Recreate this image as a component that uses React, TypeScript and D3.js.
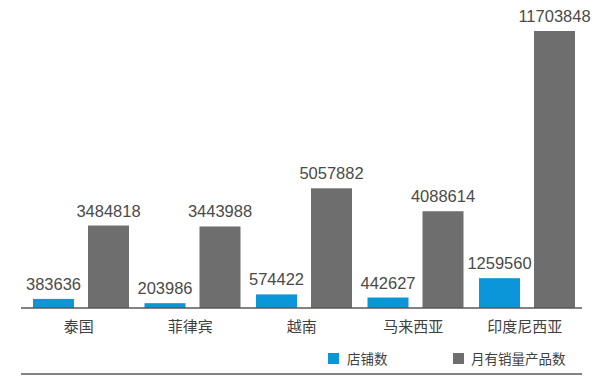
import React from "react";
import * as d3 from "d3";

const categories = ["泰国", "菲律宾", "越南", "马来西亚", "印度尼西亚"];
const shops = [383636, 203986, 574422, 442627, 1259560];
const products = [3484818, 3443988, 5057882, 4088614, 11703848];
const seriesNames = ["店铺数", "月有销量产品数"];
const colors = ["#0a96d9", "#6f6e6f"];

const W = 600, H = 379;
const left = 21, right = 582, baseY = 308;

export default function App() {
  const x = d3.scaleBand<string>().domain(categories).range([left, left + 111.5 * 5]).paddingInner(0).paddingOuter(0);
  const y = d3.scaleLinear().domain([0, 12000000]).range([baseY, 24]);
  const bw = 41;
  const gap = 14;
  const font = "'Liberation Sans', Arial, sans-serif";
  const cjk = "'Noto Sans CJK SC', sans-serif";
  return (
    <svg width={W} height={H} style={{ position: "absolute", left: 0, top: 0, background: "#fff" }}>
      {categories.map((c, i) => {
        const bx = (x(c) as number) + 12;
        const gx = bx + bw + gap;
        return (
          <g key={c}>
            <rect x={bx} y={y(shops[i])} width={bw} height={baseY - y(shops[i])} fill={colors[0]} />
            <rect x={gx} y={y(products[i])} width={bw} height={baseY - y(products[i])} fill={colors[1]} />
            <text x={bx + bw / 2} y={y(shops[i]) - 9} textAnchor="middle" fontFamily={font} fontSize={16.5} fill="#4a4a4a">{shops[i]}</text>
            <text x={gx + bw / 2} y={y(products[i]) - 9} textAnchor="middle" fontFamily={font} fontSize={16.5} fill="#4a4a4a">{products[i]}</text>
            <text x={(x(c) as number) + x.bandwidth() / 2 + 2} y={332} textAnchor="middle" fontFamily={cjk} fontSize={15} fill="#404040">{c}</text>
          </g>
        );
      })}
      <line x1={left} x2={right} y1={baseY} y2={baseY} stroke="#595959" strokeWidth={1.5} />
      <line x1={left} x2={right} y1={374} y2={374} stroke="#595959" strokeWidth={1.5} />
      <rect x={328} y={353} width={11} height={11} fill={colors[0]} />
      <text x={347} y={363.5} fontFamily={cjk} fontSize={13.5} fill="#404040">{seriesNames[0]}</text>
      <rect x={453} y={353} width={11} height={11} fill={colors[1]} />
      <text x={471} y={363.5} fontFamily={cjk} fontSize={13.5} fill="#404040">{seriesNames[1]}</text>
    </svg>
  );
}
